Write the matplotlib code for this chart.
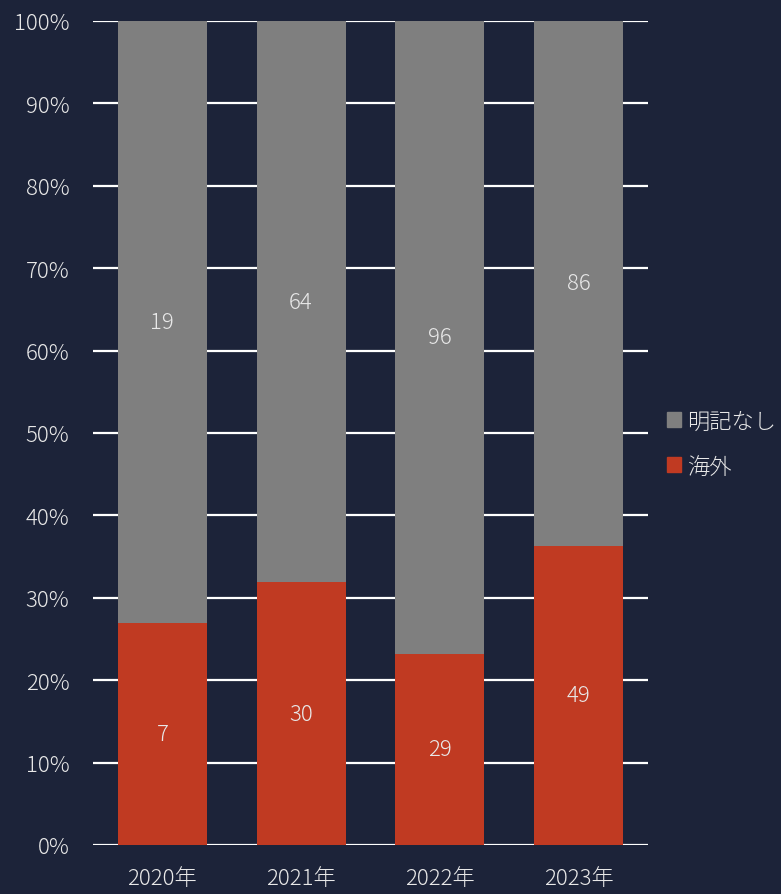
import numpy as np
import matplotlib
matplotlib.use("Agg")
import matplotlib.pyplot as plt
from matplotlib.patches import Patch
from matplotlib.ticker import PercentFormatter

# ---------- Data ----------
years = ["2020年", "2021年", "2022年", "2023年"]
overseas = [7, 30, 29, 49]          # 海外
unspecified = [19, 64, 96, 86]      # 明記なし

# ---------- Style ----------
BG = "#1c2339"
GRAY = "#7f7f7f"
RED = "#c03a22"
TEXT = "#e8e8e8"
FS = 16

plt.rcParams["font.family"] = ["Noto Sans CJK JP", "DejaVu Sans"]
plt.rcParams["font.weight"] = "light"

fig = plt.figure(figsize=(7.81, 8.95), dpi=100, facecolor=BG)
ax = fig.add_axes([93 / 781, 1 - 846 / 895, 555 / 781, 824 / 895])
ax.set_facecolor(BG)

totals = np.array(overseas) + np.array(unspecified)
share_red = np.array(overseas) / totals
share_gray = np.array(unspecified) / totals
x = np.arange(len(years))
width = 0.64

ax.bar(x, share_red, width, color=RED, zorder=2)
ax.bar(x, share_gray, width, bottom=share_red, color=GRAY, zorder=2)

# counts in the middle of each segment
for i in range(len(years)):
    ax.text(x[i], share_red[i] / 2, str(overseas[i]), ha="center", va="center",
            color=TEXT, fontsize=FS, zorder=3)
    ax.text(x[i], share_red[i] + share_gray[i] / 2, str(unspecified[i]),
            ha="center", va="center", color=TEXT, fontsize=FS, zorder=3)

ax.set_xlim(-0.5, 3.5)
ax.set_ylim(0, 1)
ax.set_yticks(np.linspace(0, 1, 11))
ax.yaxis.set_major_formatter(PercentFormatter(1.0, decimals=0))
ax.set_xticks(x)
ax.set_xticklabels(years)
ax.tick_params(axis="both", length=0, colors=TEXT, labelsize=FS)
ax.tick_params(axis="y", pad=17)
ax.tick_params(axis="x", pad=16)
ax.grid(axis="y", color="white", lw=1.6, zorder=1)
ax.set_axisbelow(True)
for s in ax.spines.values():
    s.set_visible(False)

handles = [Patch(color=GRAY, label="明記なし"), Patch(color=RED, label="海外")]
leg = fig.legend(handles=handles, loc="center left", bbox_to_anchor=(647 / 781, 1 - 445 / 895),
                 frameon=False, fontsize=FS, handlelength=0.65, handleheight=0.65,
                 handletextpad=0.25, labelspacing=1.05, labelcolor=TEXT)

fig.savefig("out.png", dpi=100, facecolor=BG)
